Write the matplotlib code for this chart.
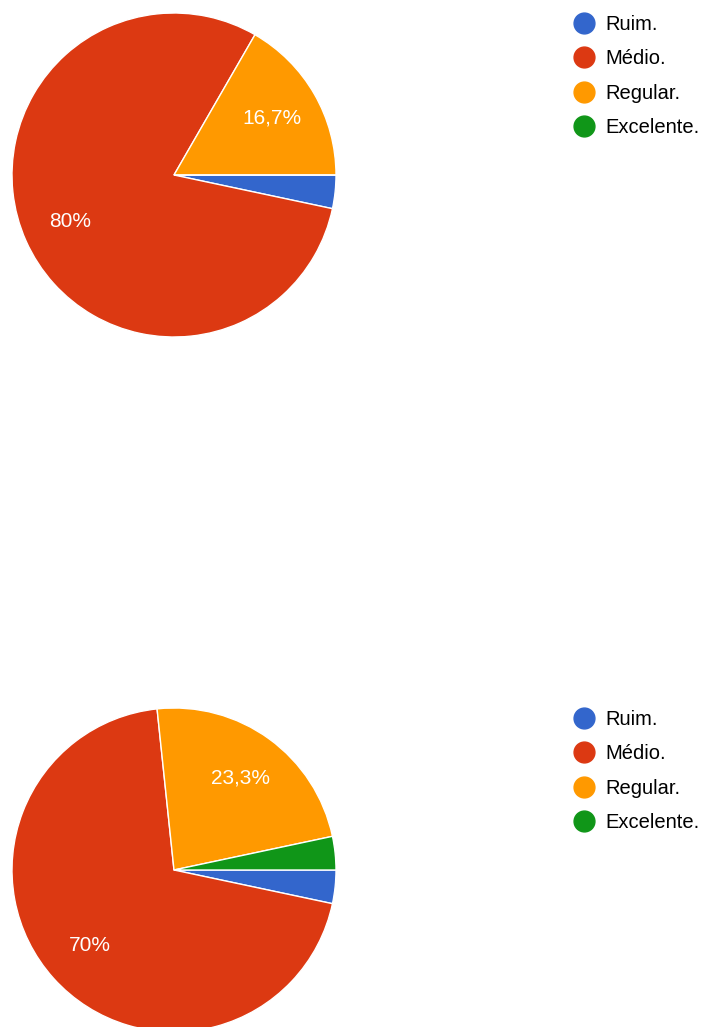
import matplotlib
matplotlib.use('Agg')
import matplotlib.pyplot as plt
from matplotlib.lines import Line2D

plt.rcParams['font.family'] = ['Liberation Sans', 'DejaVu Sans']

categories = ['Ruim.', 'Médio.', 'Regular.', 'Excelente.']
colors = ['#3366CC', '#DC3912', '#FF9900', '#109618']

# respostas (30 por pergunta)
counts_top = [1, 24, 5, 0]
counts_bottom = [1, 21, 7, 1]

W, H = 705, 1027


def fmt_pct(pct):
    if pct < 10:
        return ''
    s = '%.1f' % pct
    if s.endswith('.0'):
        s = s[:-2]
    return s.replace('.', ',') + '%'


def draw_pie(fig, counts, cx, cy, r, legend_top):
    ax = fig.add_axes([(cx - r) / W, (H - cy - r) / H, 2 * r / W, 2 * r / H])
    ax.pie(counts, colors=colors, startangle=0, counterclock=False,
           autopct=fmt_pct, pctdistance=0.7,
           wedgeprops=dict(edgecolor='white', linewidth=1),
           textprops=dict(color='white', fontsize=15))
    ax.set_xlim(-1, 1)
    ax.set_ylim(-1, 1)
    ax.set_aspect('equal')
    ax.axis('off')

    handles = [Line2D([], [], marker='o', linestyle='none', markersize=15,
                      markerfacecolor=c, markeredgecolor=c) for c in colors]
    fig.legend(handles, categories, loc='upper left',
               bbox_to_anchor=(566 / W, 1 - legend_top / H),
               frameon=False, fontsize=14.5, handlelength=0.8,
               handletextpad=0.65, labelspacing=0.76, borderpad=0)


fig = plt.figure(figsize=(W / 100, H / 100), dpi=100)
draw_pie(fig, counts_top, 174, 175, 162, 5)
draw_pie(fig, counts_bottom, 174, 870, 162, 700)

fig.savefig('out.png', dpi=100)
